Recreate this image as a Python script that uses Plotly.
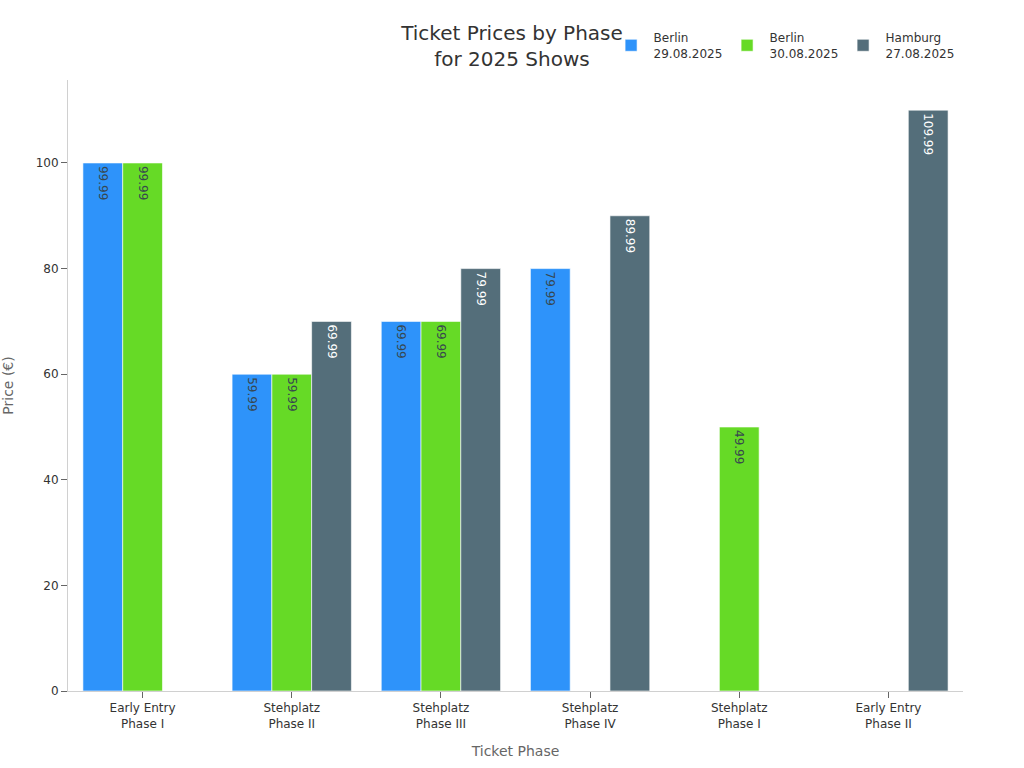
import plotly.graph_objects as go

categories = ["Early Entry<br>Phase I", "Stehplatz<br>Phase II", "Stehplatz<br>Phase III",
              "Stehplatz<br>Phase IV", "Stehplatz<br>Phase I", "Early Entry<br>Phase II"]
series_names = ["Berlin<br>29.08.2025", "Berlin<br>30.08.2025", "Hamburg<br>27.08.2025"]
berlin_2908 = [99.99, 59.99, 69.99, 79.99, None, None]
berlin_3008 = [99.99, 59.99, 69.99, None, 49.99, None]
hamburg_2708 = [None, 69.99, 79.99, 89.99, None, 109.99]
colors = ["#2E93FA", "#66DA26", "#546E7A"]
text_colors = ["#37474F", "#37474F", "#FFFFFF"]

fig = go.Figure()
for name, vals, c, tc in zip(series_names, [berlin_2908, berlin_3008, hamburg_2708], colors, text_colors):
    fig.add_trace(go.Bar(
        x=categories, y=vals, name=name,
        marker=dict(color=c, line=dict(color="rgba(255,255,255,0.6)", width=1)),
        text=[("" if v is None else f"{v:.2f}") for v in vals],
        textposition="inside", insidetextanchor="end", textangle=90,
        textfont=dict(color=tc, size=12, family="DejaVu Sans"),
        constraintext="none", cliponaxis=False,
    ))

fig.update_layout(
    width=1024, height=768,
    barmode="group", bargap=0.2, bargroupgap=0,
    plot_bgcolor="white", paper_bgcolor="white",
    font=dict(family="DejaVu Sans", size=12, color="#333333"),
    margin=dict(l=68, r=61, t=80, b=77, autoexpand=False),
    title=dict(text="Ticket Prices by Phase<br>for 2025 Shows", x=0.5, xref="container",
               xanchor="center", y=0.948, yanchor="top",
               font=dict(size=20, color="#333333")),
    legend=dict(orientation="h", x=0.604, xanchor="left", y=1.093, yanchor="top",
                font=dict(size=12, color="#333333"), bgcolor="rgba(0,0,0,0)",
                traceorder="normal", itemwidth=35, entrywidth=66),
    xaxis=dict(title=dict(text="Ticket Phase", font=dict(size=14, color="#666666"), standoff=16),
               showline=True, linecolor="#D0D0D0", linewidth=1,
               ticks="outside", tickcolor="#666666", ticklen=6, showgrid=False,
               tickfont=dict(size=12, color="#333333")),
    yaxis=dict(title=dict(text="Price (€)", font=dict(size=14, color="#666666"), standoff=20),
               range=[0, 115.7], dtick=20, showline=True, linecolor="#D0D0D0", linewidth=1,
               ticks="outside", tickcolor="#666666", ticklen=6, showgrid=False, zeroline=False,
               tickfont=dict(size=12, color="#333333")),
)

fig.write_html("out.html")
